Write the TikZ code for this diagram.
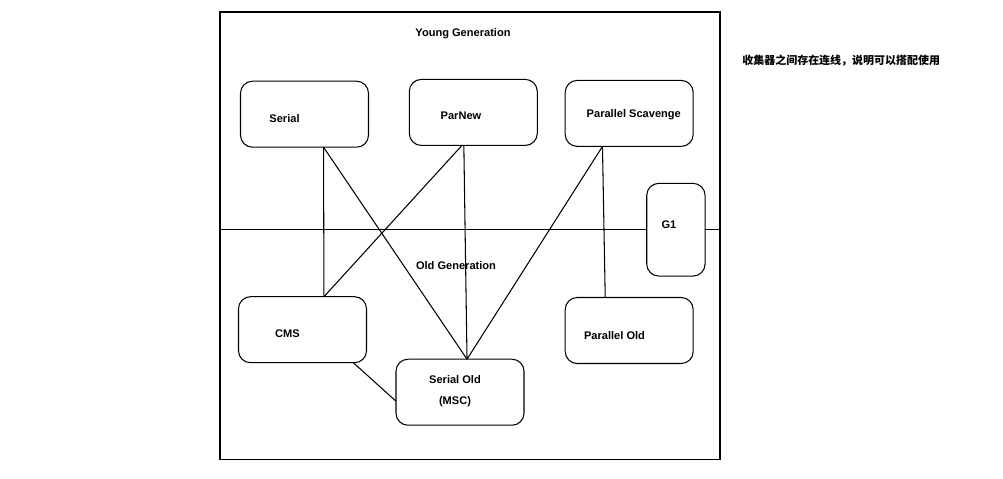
\documentclass[tikz,border=0pt]{standalone}
\usepackage{fontspec}
\setmainfont{Liberation Sans}
\newfontfamily\cjk{Noto Sans CJK SC}
\usepackage{tikz}
\newlength\px
\setlength\px{0.02cm}

\begin{document}
\begin{tikzpicture}[x=1\px, y=-1\px,
    every node/.style={font=\fontsize{6.3}{11.9}\selectfont\bfseries},
    gcbox/.style={draw, line width=0.6pt, rounded corners=12\px, minimum width=128\px,
      minimum height=66\px, inner sep=0pt, outer sep=0pt},
    gctext/.style={inner sep=0pt, align=center},
    link/.style={line width=0.6pt}]
    \useasboundingbox (0,0) rectangle (1003,478);
    \node[draw, line width=0.6pt, minimum width=500\px, minimum height=447.5\px,
      inner sep=0pt, outer sep=0pt] (heap) at (470,235.75) {};% whole heap
    \node[gctext] (young) at (463,34) {Young Generation};
    \node[gctext] (old) at (456,265.7) {Old Generation};
    % young generation collectors
    \node[gcbox, label={[gctext, xshift=-20\px, yshift=-4.7\px]center:Serial}] (serial) at (304.5,114.2) {};
    \node[gcbox, label={[gctext, xshift=-12.3\px, yshift=-3.6\px]center:ParNew}] (parnew) at (473.3,112.4) {};
    \node[gcbox, label={[gctext, xshift=4.6\px, yshift=-1.6\px]center:Parallel Scavenge}] (pscav) at (629.2,113.4) {};
    % old generation collectors
    \node[gcbox, label={[gctext, xshift=-15\px, yshift=-4.3\px]center:CMS}] (cms) at (302.5,329.7) {};
    \node[gcbox, label={[gctext, xshift=-5\px, yshift=0.7\px]center:Serial Old\\(MSC)}] (serialold) at (460,392.2) {};
    \node[gcbox, label={[gctext, xshift=-14.7\px, yshift=-5.5\px]center:Parallel Old}] (parold) at (629.2,330.5) {};
    \node[gcbox, minimum width=58.3\px, minimum height=92.7\px,
      label={[gctext, xshift=-6.9\px, yshift=5.4\px]center:G1}] (g1) at (675.9,229.7) {};
    % boundary between the generations
    \draw[link] (g1.west -| heap.west) -- (g1.west);
    \draw[link] (g1.east) -- (g1.east -| heap.east);
    % collectors that work together
    \draw[link] (serial.-60.3) -- (cms.57.8);
    \draw[link] (serial.-60.3) -- (serialold.78.5);
    \draw[link] (parnew.-109.4) -- (cms.57.8);
    \draw[link] (parnew.-106.9) -- (serialold.78.5);
    \draw[link] (pscav.-129.2) -- (serialold.78.5);
    \draw[link] (pscav.-129.2) -- (parold.126.3);
    \draw[link] (cms.-33) -- (serialold.188.4);
    \node[gctext, anchor=west, font=\cjk\fontsize{6.25}{8}\selectfont\bfseries] (note) at (742,60.7)
      {收集器之间存在连线，说明可以搭配使用};
\end{tikzpicture}
\end{document}
